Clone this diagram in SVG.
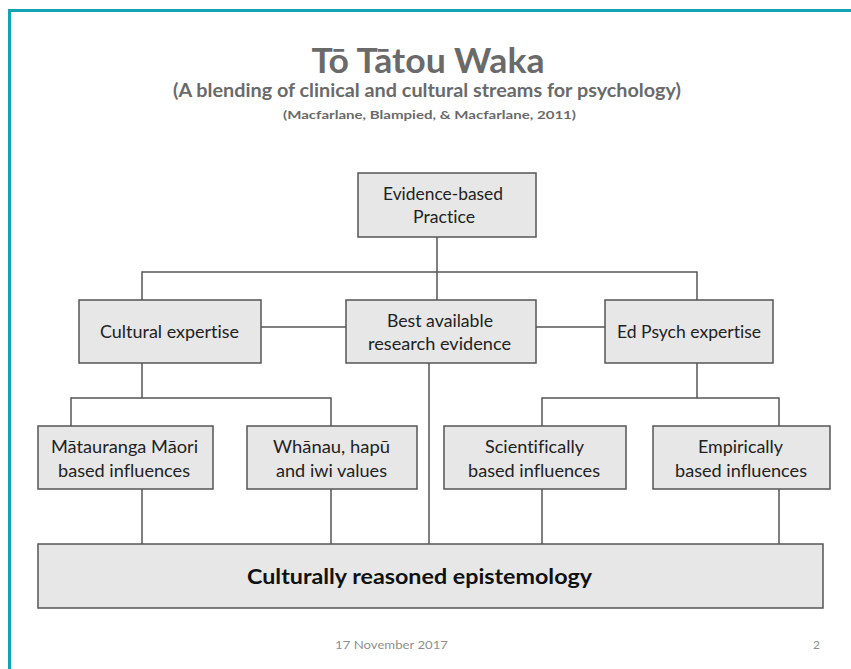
<svg xmlns="http://www.w3.org/2000/svg" width="851" height="669" viewBox="0 0 851 669">
<style>
text{font-variant-ligatures:none;font-feature-settings:"liga" 0,"dlig" 0}
.box{fill:#e7e7e7;stroke:#555555;stroke-width:1.5}
.lbl{font-family:Lato,"Liberation Sans",Arial,sans-serif;font-size:17px;fill:#222;text-anchor:middle}
.con{stroke:#555555;stroke-width:1.5;fill:none}
.hdr{font-family:Lato,"Liberation Sans",Arial,sans-serif;font-weight:bold;fill:#6a6a6a;text-anchor:middle}
.ftr{font-family:Lato,"Liberation Sans",Arial,sans-serif;font-size:12px;fill:#8f8f8f}
</style>
<rect x="0" y="0" width="851" height="669" fill="#ffffff"/>
<path d="M9.5 669 V10.5 H851" fill="none" stroke="#12a3b4" stroke-width="3"/>
<g id="title">
<text class="hdr" x="428" y="73" font-size="34" textLength="233" lengthAdjust="spacingAndGlyphs">Tō Tātou Waka</text>
<text class="hdr" x="427" y="97" font-size="19" textLength="508" lengthAdjust="spacingAndGlyphs">(A blending of clinical and cultural streams for psychology)</text>
<text class="hdr" x="429.5" y="119" font-size="11.5" textLength="293" lengthAdjust="spacingAndGlyphs">(Macfarlane,  Blampied, &amp; Macfarlane,  2011)</text>
</g>
<g id="connectors">
<path class="con" d="M437 237 V300"/>
<path class="con" d="M142 300 V272 H697 V300"/>
<path class="con" d="M261 327 H346"/>
<path class="con" d="M536 327 H605"/>
<path class="con" d="M142 363 V398"/>
<path class="con" d="M71 426 V398 H331 V426"/>
<path class="con" d="M697 363 V398"/>
<path class="con" d="M542 426 V398 H779 V426"/>
<path class="con" d="M142 489 V544"/>
<path class="con" d="M331 489 V544"/>
<path class="con" d="M429 363 V544"/>
<path class="con" d="M542 489 V544"/>
<path class="con" d="M779 489 V544"/>
</g>
<g id="evidence-based-practice">
<rect class="box" x="358" y="173" width="178" height="64"/>
<text class="lbl" x="443" y="200" textLength="120" lengthAdjust="spacingAndGlyphs">Evidence-based</text>
<text class="lbl" x="444" y="223" textLength="62" lengthAdjust="spacingAndGlyphs">Practice</text>
</g>
<g id="cultural-expertise">
<rect class="box" x="79" y="300" width="182" height="63"/>
<text class="lbl" x="169.5" y="338" textLength="139" lengthAdjust="spacingAndGlyphs">Cultural expertise</text>
</g>
<g id="best-available">
<rect class="box" x="346" y="300" width="190" height="63"/>
<text class="lbl" x="440" y="327" textLength="106" lengthAdjust="spacingAndGlyphs">Best available</text>
<text class="lbl" x="439.5" y="350" textLength="143" lengthAdjust="spacingAndGlyphs">research evidence</text>
</g>
<g id="ed-psych-expertise">
<rect class="box" x="605" y="300" width="168" height="63"/>
<text class="lbl" x="689" y="338" textLength="144" lengthAdjust="spacingAndGlyphs">Ed Psych expertise</text>
</g>
<g id="matauranga-maori">
<rect class="box" x="38" y="426" width="175" height="63"/>
<text class="lbl" x="124.5" y="453" textLength="147" lengthAdjust="spacingAndGlyphs">Mātauranga Māori</text>
<text class="lbl" x="124" y="477" textLength="132" lengthAdjust="spacingAndGlyphs">based influences</text>
</g>
<g id="whanau-hapu-iwi">
<rect class="box" x="247" y="426" width="170" height="63"/>
<text class="lbl" x="331.5" y="453" textLength="117" lengthAdjust="spacingAndGlyphs">Whānau, hapū</text>
<text class="lbl" x="331.5" y="477" textLength="111" lengthAdjust="spacingAndGlyphs">and iwi values</text>
</g>
<g id="scientifically-based">
<rect class="box" x="444" y="426" width="182" height="63"/>
<text class="lbl" x="534.5" y="453" textLength="99" lengthAdjust="spacingAndGlyphs">Scientifically</text>
<text class="lbl" x="534" y="477" textLength="132" lengthAdjust="spacingAndGlyphs">based influences</text>
</g>
<g id="empirically-based">
<rect class="box" x="653" y="426" width="177" height="63"/>
<text class="lbl" x="740.5" y="453" textLength="85" lengthAdjust="spacingAndGlyphs">Empirically</text>
<text class="lbl" x="741" y="477" textLength="132" lengthAdjust="spacingAndGlyphs">based influences</text>
</g>
<g id="culturally-reasoned-epistemology">
<rect class="box" x="38" y="544" width="785" height="64"/>
<text x="419.5" y="584" font-family="Lato,'Liberation Sans',Arial,sans-serif" font-weight="bold" font-size="21" fill="#111" text-anchor="middle" textLength="345" lengthAdjust="spacingAndGlyphs">Culturally reasoned epistemology</text>
</g>
<g id="footer">
<text class="ftr" x="335" y="649" textLength="113" lengthAdjust="spacingAndGlyphs">17 November  2017</text>
<text class="ftr" x="813" y="649">2</text>
</g>
</svg>
